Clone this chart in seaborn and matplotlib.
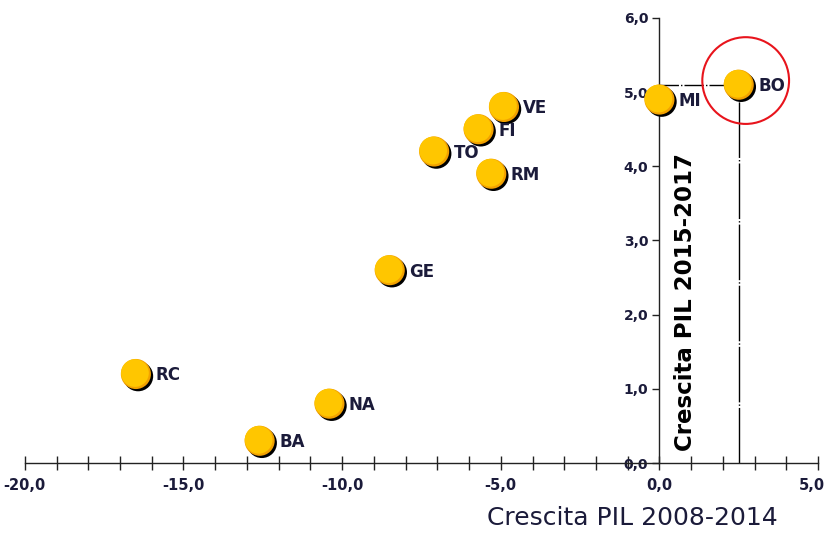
import numpy as np
import pandas as pd
import matplotlib
matplotlib.use("Agg")
import matplotlib.pyplot as plt
import matplotlib.transforms as mtransforms
from matplotlib.ticker import MultipleLocator, FuncFormatter
import seaborn as sns

# data
cities = ["BO", "MI", "VE", "FI", "TO", "RM", "GE", "RC", "NA", "BA"]
pil_2008_2014 = [2.5, 0.0, -4.9, -5.7, -7.1, -5.3, -8.5, -16.5, -10.4, -12.6]
pil_2015_2017 = [5.1, 4.9, 4.8, 4.5, 4.2, 3.9, 2.6, 1.2, 0.8, 0.3]
highlight = "BO"

x_label = "Crescita PIL 2008-2014"
y_label = "Crescita PIL 2015-2017"

NAVY = "#1b1b3a"

df = pd.DataFrame({"city": cities, "x": pil_2008_2014, "y": pil_2015_2017})

sns.set_style("white")
plt.rcParams["font.family"] = ["DejaVu Sans"]

fig = plt.figure(figsize=(8.28, 5.33), dpi=100)
ax = fig.add_axes([0.030, 0.1313, 0.958, 0.835])

# guide lines from the highlighted point to the axes
hl = df[df["city"] == highlight].iloc[0]
ax.plot([0, hl["x"]], [hl["y"], hl["y"]], color="black", lw=1.0,
        linestyle=(0, (14, 1.5, 1, 1.5)), zorder=1)
ax.plot([hl["x"], hl["x"]], [0, hl["y"]], color="black", lw=1.0,
        linestyle=(0, (40, 1.5, 1, 1.5)), zorder=1)

# shadow, rim and body of the "bubbles"
shadow_tr = mtransforms.offset_copy(ax.transData, fig=fig, x=1.6, y=-1.6, units="points")
shine_tr = mtransforms.offset_copy(ax.transData, fig=fig, x=-0.7, y=0.7, units="points")
sns.scatterplot(data=df, x="x", y="y", s=470, color="black", edgecolor="none",
                transform=shadow_tr, ax=ax, zorder=3, clip_on=False, legend=False)
sns.scatterplot(data=df, x="x", y="y", s=470, color="#f2a100", edgecolor="none",
                ax=ax, zorder=4, clip_on=False, legend=False)
sns.scatterplot(data=df, x="x", y="y", s=400, color="#ffc600", edgecolor="none",
                transform=shine_tr, ax=ax, zorder=5, clip_on=False, legend=False)

for _, r in df.iterrows():
    ax.annotate(r["city"], (r["x"], r["y"]), xytext=(14, -1), textcoords="offset points",
                ha="left", va="center", fontsize=12, fontweight="bold", color=NAVY, zorder=6)

# red ring around the highlighted city
ring_tr = mtransforms.offset_copy(ax.transData, fig=fig, x=5, y=3, units="points")
ax.scatter([hl["x"]], [hl["y"]], s=3900, facecolors="none", edgecolors="#e8141c",
           linewidths=1.5, transform=ring_tr, zorder=6, clip_on=False)

# axes crossing at zero
ax.set_xlim(-20, 5)
ax.set_ylim(0, 6)
for side in ["top", "right"]:
    ax.spines[side].set_visible(False)
ax.spines["left"].set_position(("data", 0))
ax.spines["bottom"].set_position(("data", 0))
for side in ["left", "bottom"]:
    ax.spines[side].set_color("#222222")
    ax.spines[side].set_linewidth(1.0)

ax.xaxis.set_major_locator(MultipleLocator(1))
ax.yaxis.set_major_locator(MultipleLocator(1))
ax.xaxis.set_major_formatter(FuncFormatter(
    lambda v, p: f"{v:.1f}".replace(".", ",") if abs(v % 5) < 1e-9 else ""))
ax.yaxis.set_major_formatter(FuncFormatter(lambda v, p: f"{v:.1f}".replace(".", ",")))
ax.tick_params(axis="x", bottom=True, direction="inout", length=10, width=1,
               color="#222222", pad=6, labelsize=10.5, labelcolor=NAVY)
ax.tick_params(axis="y", left=True, direction="out", length=5, width=1,
               color="#222222", pad=3, labelsize=10, labelcolor=NAVY)
ax.set_xlabel("")
ax.set_ylabel("")
ax.grid(False)

ax.text(0.82, 2.17, y_label, rotation=90, ha="center", va="center",
        fontsize=16.5, fontweight="bold", color="black", zorder=2)
fig.text(632 / 828, 1 - 518 / 533, x_label, ha="center", va="center",
         fontsize=18, color=NAVY)

fig.canvas.draw()
for lab in ax.get_xticklabels() + ax.get_yticklabels():
    lab.set_fontweight("bold")
# keep the last x label inside the figure
for lab in ax.get_xticklabels():
    if lab.get_text() == "5,0":
        lab.set_horizontalalignment("right")
        lab.set_transform(lab.get_transform()
                          + mtransforms.ScaledTranslation(7 / 100, 0, fig.dpi_scale_trans))

fig.savefig("out.png", dpi=100)
